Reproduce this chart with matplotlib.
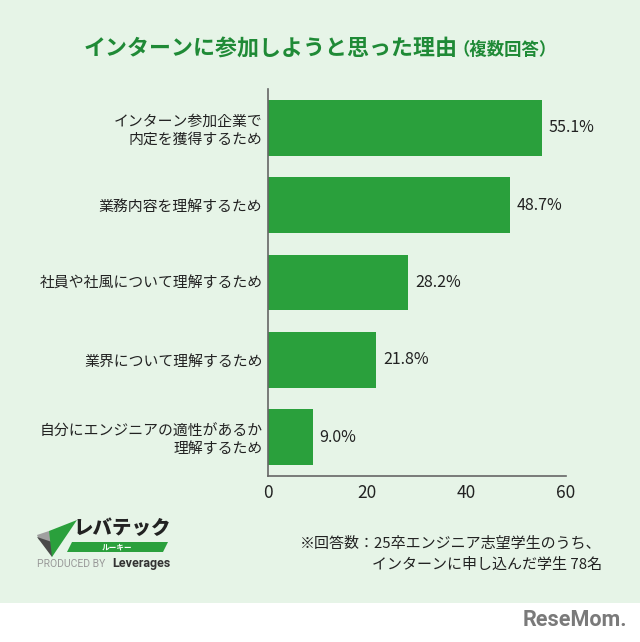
import matplotlib
matplotlib.use("Agg")
import matplotlib.pyplot as plt
from matplotlib.patches import Rectangle, Polygon

plt.rcParams['font.family'] = ['Noto Sans CJK JP', 'DejaVu Sans']

categories = ["インターン参加企業で\n内定を獲得するため",
              "業務内容を理解するため",
              "社員や社風について理解するため",
              "業界について理解するため",
              "自分にエンジニアの適性があるか\n理解するため"]
values = [55.1, 48.7, 28.2, 21.8, 9.0]
xticks = [0, 20, 40, 60]

BG = "#e6f4e7"
BAR = "#2aa03c"
TITLE = "#1f8a36"

fig = plt.figure(figsize=(6.4, 6.42), dpi=100)
fig.patch.set_facecolor("white")
# green panel
fig.add_artist(Rectangle((0, 1 - 603/642), 1, 603/642, transform=fig.transFigure,
                         facecolor=BG, edgecolor="none", zorder=0))

ax = fig.add_axes([268/640, 1 - 476/642, (566-268)/640, (476-89)/642])
ax.set_facecolor("none")
y = list(range(len(categories)))
ax.barh(y, values, height=0.72, color=BAR, zorder=2)
ax.set_ylim(len(categories) - 0.5, -0.5)
ax.set_xlim(0, 60)
ax.set_xticks(xticks)
ax.set_xticklabels([str(t) for t in xticks], fontsize=12.5, color="#222222")
ax.set_yticks(y)
ax.set_yticklabels(categories, fontsize=10.7, color="#222222", linespacing=1.3)
ax.tick_params(axis='both', length=0, pad=6)
ax.tick_params(axis='y', pad=4)
for s in ["top", "right"]:
    ax.spines[s].set_visible(False)
ax.spines["left"].set_color("#666666")
ax.spines["bottom"].set_color("#666666")
ax.spines["left"].set_linewidth(1.2)
ax.spines["bottom"].set_linewidth(1.2)

for yi, v in zip(y, values):
    ax.text(v + 1.4, yi, f"{v:.1f}%", va="center", ha="left", fontsize=11.5, color="#222222")

def px(xp, yp):
    return (xp/640, 1 - yp/642)

# title
fig.text(*px(84, 49), "インターンに参加しようと思った理由", ha="left", va="center",
         fontsize=15.8, fontweight="bold", color=TITLE)
fig.text(*px(452, 50), "（複数回答）", ha="left", va="center",
         fontsize=12.5, fontweight="bold", color=TITLE)

# footnote
fig.text(*px(602, 544), "※回答数：25卒エンジニア志望学生のうち、", ha="right", va="center",
         fontsize=10.8, color="#222222")
fig.text(*px(602, 565), "インターンに申し込んだ学生 78名", ha="right", va="center",
         fontsize=10.8, color="#222222")

# logo
fig.add_artist(Polygon([px(37, 535), px(49, 531), px(55, 544), px(39, 540)], closed=True,
                       transform=fig.transFigure, facecolor="#a0a0a0", edgecolor="none"))
fig.add_artist(Polygon([px(37, 537), px(55, 543), px(52, 557)], closed=True,
                       transform=fig.transFigure, facecolor="#4a4a4a", edgecolor="none"))
fig.add_artist(Polygon([px(49, 531), px(77, 520), px(52, 557)], closed=True,
                       transform=fig.transFigure, facecolor="#2aa03c", edgecolor="none"))
fig.add_artist(Polygon([px(72, 542), px(168, 542), px(163, 552), px(67, 552)], closed=True,
                       transform=fig.transFigure, facecolor="#2aa03c", edgecolor="none"))
fig.text(*px(122, 528), "レバテック", ha="center", va="center", fontsize=14,
         fontweight="heavy", fontstyle="italic", color="#222222")
fig.text(*px(117, 547), "ルーキー", ha="center", va="center", fontsize=5.5,
         color="white", fontweight="bold")
fig.text(*px(37, 564), "PRODUCED BY", ha="left", va="center", fontsize=7.5,
         color="#999999", family=["Roboto", "DejaVu Sans"])
fig.text(*px(112, 564), "Leverages", ha="left", va="center", fontsize=9,
         color="#333333", fontweight="bold", family=["Roboto", "DejaVu Sans"])

# watermark
fig.text(*px(627, 620), "ReseMom.", ha="right", va="center", fontsize=15.5,
         fontweight="bold", color="#7a7a7a", family=["Roboto", "DejaVu Sans"])

fig.savefig("out.png", dpi=100, facecolor=fig.get_facecolor())
